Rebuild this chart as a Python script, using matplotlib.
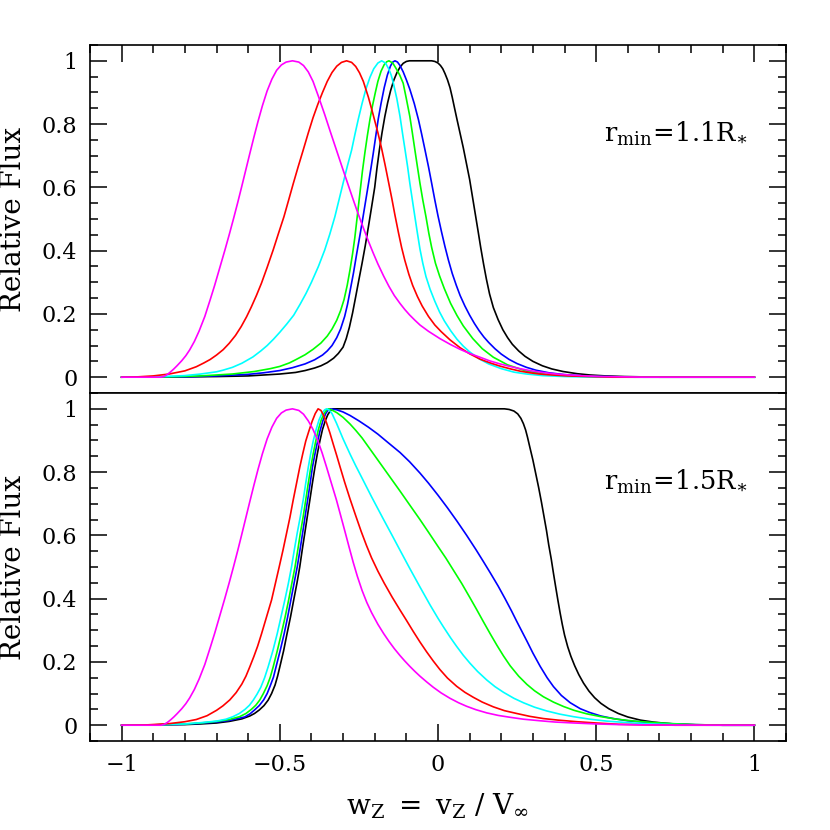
import matplotlib
matplotlib.use("Agg")
import matplotlib.pyplot as plt
from matplotlib.ticker import MultipleLocator, FuncFormatter

# ---------------- data: top panel (r_min = 1.1 R*) ----------------
top_magenta_x = [-1.0, -0.875, -0.865, -0.855, -0.845, -0.835, -0.825, -0.81, -0.797, -0.785, -0.77, -0.755,
                 -0.737, -0.72, -0.706, -0.69, -0.674, -0.66, -0.646, -0.633, -0.621, -0.608, -0.595, -0.582,
                 -0.569, -0.555, -0.54, -0.525, -0.51, -0.495, -0.48, -0.46, -0.44, -0.425, -0.41, -0.395,
                 -0.377, -0.358, -0.34, -0.321, -0.303, -0.285, -0.269, -0.253, -0.236, -0.22, -0.205, -0.19,
                 -0.172, -0.155, -0.138, -0.12, -0.105, -0.09, -0.073, -0.057, -0.03, 0.006, 0.04, 0.07, 0.1,
                 0.133, 0.165, 0.196, 0.228, 0.259, 0.29, 0.323, 0.355, 0.386, 0.43, 0.47, 0.52, 0.58, 0.65, 1.0]
top_magenta_y = [0.0, 0.0, 0.003, 0.009, 0.017, 0.026, 0.036, 0.052, 0.068, 0.086, 0.113, 0.146,
                 0.192, 0.245, 0.29, 0.345, 0.4, 0.45, 0.502, 0.552, 0.6, 0.653, 0.706, 0.758,
                 0.808, 0.858, 0.905, 0.942, 0.97, 0.987, 0.996, 1.0, 0.996, 0.985, 0.965, 0.935,
                 0.885, 0.83, 0.775, 0.718, 0.664, 0.611, 0.564, 0.518, 0.472, 0.43, 0.393, 0.358,
                 0.32, 0.287, 0.258, 0.233, 0.214, 0.197, 0.18, 0.165, 0.145, 0.122, 0.103, 0.088, 0.075,
                 0.063, 0.051, 0.042, 0.034, 0.027, 0.021, 0.016, 0.012, 0.009, 0.006, 0.004, 0.002, 0.001, 0.0, 0.0]

top_red_x = [-1.0, -0.95, -0.9, -0.85, -0.8, -0.764, -0.74, -0.72, -0.7, -0.679, -0.66, -0.64, -0.622, -0.605,
             -0.59, -0.574, -0.558, -0.54, -0.521, -0.504, -0.487, -0.472, -0.458, -0.442, -0.426, -0.41,
             -0.395, -0.38, -0.365, -0.35, -0.335, -0.32, -0.305, -0.289, -0.273, -0.26, -0.248, -0.236,
             -0.22, -0.205, -0.19, -0.178, -0.167, -0.157, -0.146, -0.136, -0.125, -0.115, -0.105, -0.092,
             -0.08, -0.065, -0.05, -0.03, -0.01, 0.01, 0.038, 0.07, 0.1, 0.133, 0.165, 0.196, 0.23, 0.26,
             0.29, 0.32, 0.36, 0.41, 0.48, 0.55, 1.0]
top_red_y = [0.0, 0.001, 0.004, 0.01, 0.02, 0.033, 0.045, 0.056, 0.07, 0.087, 0.107, 0.132, 0.16, 0.191,
             0.222, 0.258, 0.297, 0.347, 0.402, 0.455, 0.507, 0.56, 0.61, 0.665, 0.718, 0.772,
             0.82, 0.862, 0.9, 0.935, 0.963, 0.983, 0.995, 1.0, 0.995, 0.982, 0.962, 0.935,
             0.885, 0.83, 0.773, 0.722, 0.67, 0.62, 0.565, 0.512, 0.457, 0.41, 0.37, 0.325,
             0.29, 0.255, 0.225, 0.192, 0.165, 0.144, 0.118, 0.093, 0.074, 0.057, 0.045, 0.035, 0.026, 0.019,
             0.014, 0.01, 0.007, 0.004, 0.002, 0.0, 0.0]

top_cyan_x = [-1.0, -0.9, -0.8, -0.75, -0.7, -0.68, -0.65, -0.62, -0.585, -0.56, -0.54, -0.52, -0.5, -0.478,
              -0.456, -0.435, -0.417, -0.4, -0.378, -0.358, -0.342, -0.326, -0.313, -0.3, -0.287, -0.273,
              -0.262, -0.252, -0.24, -0.228, -0.215, -0.203, -0.19, -0.178, -0.166, -0.156, -0.148, -0.141,
              -0.13, -0.12, -0.112, -0.104, -0.096, -0.089, -0.081, -0.073, -0.065, -0.057, -0.048, -0.038,
              -0.025, -0.01, 0.005, 0.02, 0.04, 0.06, 0.08, 0.1, 0.13, 0.16, 0.2, 0.24, 0.28, 0.33, 0.4,
              0.5, 1.0]
top_cyan_y = [0.0, 0.001, 0.005, 0.01, 0.017, 0.022, 0.031, 0.044, 0.064, 0.083, 0.1, 0.12, 0.142, 0.168,
              0.196, 0.232, 0.265, 0.3, 0.35, 0.402, 0.452, 0.507, 0.56, 0.613, 0.665, 0.718,
              0.77, 0.815, 0.865, 0.91, 0.948, 0.975, 0.993, 1.0, 0.993, 0.975, 0.955, 0.929,
              0.88, 0.824, 0.77, 0.718, 0.665, 0.613, 0.56, 0.507, 0.455, 0.405, 0.36, 0.318,
              0.278, 0.24, 0.206, 0.178, 0.147, 0.12, 0.098, 0.08, 0.058, 0.042, 0.027, 0.016, 0.01, 0.005, 0.002,
              0.0, 0.0]

top_green_x = [-1.0, -0.85, -0.75, -0.65, -0.58, -0.53, -0.5, -0.47, -0.45, -0.42, -0.395, -0.37, -0.35,
               -0.335, -0.32, -0.308, -0.297, -0.287, -0.278, -0.27, -0.263, -0.255, -0.247, -0.239, -0.231,
               -0.223, -0.215, -0.207, -0.198, -0.19, -0.18, -0.17, -0.162, -0.155, -0.143, -0.132, -0.121,
               -0.11, -0.1, -0.089, -0.081, -0.073, -0.065, -0.057, -0.048, -0.038, -0.029, -0.02, -0.008,
               0.005, 0.02, 0.04, 0.06, 0.08, 0.11, 0.14, 0.175, 0.22, 0.28, 0.35, 0.45, 0.6, 1.0]
top_green_y = [0.0, 0.001, 0.004, 0.01, 0.018, 0.027, 0.034, 0.045, 0.055, 0.071, 0.088, 0.108, 0.13,
               0.152, 0.18, 0.21, 0.245, 0.29, 0.34, 0.39, 0.44, 0.51, 0.58, 0.65, 0.71,
               0.765, 0.815, 0.858, 0.9, 0.935, 0.967, 0.988, 0.997, 1.0, 0.993, 0.975, 0.955,
               0.929, 0.88, 0.824, 0.772, 0.718, 0.665, 0.613, 0.56, 0.507, 0.455, 0.41, 0.36,
               0.32, 0.28, 0.233, 0.195, 0.162, 0.122, 0.09, 0.063, 0.039, 0.019, 0.008, 0.003, 0.0, 0.0]

top_blue_x = [-1.0, -0.8, -0.7, -0.6, -0.55, -0.5, -0.46, -0.42, -0.39, -0.365, -0.35, -0.335, -0.32, -0.308,
              -0.295, -0.286, -0.278, -0.267, -0.257, -0.247, -0.238, -0.229, -0.22, -0.212, -0.205, -0.197,
              -0.189, -0.18, -0.17, -0.16, -0.15, -0.143, -0.136, -0.128, -0.12, -0.11, -0.1, -0.089,
              -0.075, -0.062, -0.052, -0.041, -0.03, -0.02, -0.01, 0.0, 0.011, 0.022, 0.033, 0.045, 0.058,
              0.07, 0.085, 0.1, 0.115, 0.13, 0.145, 0.16, 0.18, 0.2, 0.225, 0.25, 0.28, 0.31, 0.35, 0.4,
              0.46, 0.53, 0.62, 1.0]
top_blue_y = [0.0, 0.001, 0.004, 0.009, 0.014, 0.021, 0.03, 0.042, 0.055, 0.07, 0.083, 0.1, 0.125, 0.152,
              0.192, 0.23, 0.272, 0.33, 0.39, 0.447, 0.5, 0.555, 0.61, 0.66, 0.705, 0.76,
              0.815, 0.865, 0.915, 0.955, 0.984, 0.996, 1.0, 0.996, 0.985, 0.965, 0.94, 0.91,
              0.865, 0.815, 0.77, 0.718, 0.665, 0.613, 0.56, 0.51, 0.46, 0.413, 0.37, 0.328, 0.29,
              0.258, 0.225, 0.196, 0.17, 0.147, 0.127, 0.11, 0.09, 0.073, 0.056, 0.043, 0.031, 0.022, 0.014, 0.008,
              0.004, 0.002, 0.0, 0.0]

top_black_x = [-1.0, -0.8, -0.7, -0.6, -0.5, -0.45, -0.42, -0.39, -0.37, -0.35, -0.33, -0.315, -0.30, -0.29,
               -0.28, -0.27, -0.26, -0.25, -0.24, -0.23, -0.22, -0.21, -0.2, -0.193, -0.185, -0.177, -0.168,
               -0.159, -0.15, -0.14, -0.13, -0.12, -0.11, -0.1, -0.09, -0.02, -0.01, 0.0, 0.008, 0.015,
               0.022, 0.03, 0.038, 0.045, 0.052, 0.06, 0.07, 0.08, 0.09, 0.1, 0.109, 0.118, 0.127, 0.135,
               0.144, 0.153, 0.163, 0.175, 0.19, 0.205, 0.22, 0.235, 0.255, 0.275, 0.3, 0.33, 0.36, 0.395,
               0.44, 0.48, 0.53, 0.59, 0.7, 1.0]
top_black_y = [0.0, 0.001, 0.002, 0.004, 0.01, 0.015, 0.021, 0.029, 0.036, 0.046, 0.06, 0.075, 0.095, 0.122,
               0.158, 0.203, 0.255, 0.308, 0.36, 0.415, 0.475, 0.537, 0.6, 0.66, 0.72, 0.772, 0.824,
               0.868, 0.905, 0.938, 0.962, 0.98, 0.992, 0.998, 1.0, 1.0, 0.998, 0.993, 0.985, 0.975,
               0.96, 0.94, 0.915, 0.885, 0.852, 0.815, 0.77, 0.725, 0.675, 0.625, 0.57, 0.515, 0.46, 0.41,
               0.358, 0.31, 0.263, 0.22, 0.182, 0.15, 0.125, 0.104, 0.083, 0.066, 0.05, 0.036, 0.026, 0.018,
               0.011, 0.007, 0.004, 0.002, 0.0, 0.0]

# ---------------- data: bottom panel (r_min = 1.5 R*) ----------------
bot_magenta_x = [-1.0, -0.875, -0.865, -0.855, -0.845, -0.835, -0.825, -0.81, -0.797, -0.785, -0.77, -0.755,
                 -0.737, -0.72, -0.706, -0.69, -0.674, -0.66, -0.646, -0.633, -0.621, -0.608, -0.595, -0.582,
                 -0.569, -0.555, -0.54, -0.525, -0.51, -0.495, -0.48, -0.46, -0.44, -0.425, -0.41, -0.395,
                 -0.38, -0.366, -0.352, -0.337, -0.321, -0.308, -0.294, -0.281, -0.268, -0.255, -0.24, -0.225,
                 -0.21, -0.19, -0.172, -0.155, -0.138, -0.12, -0.105, -0.089, -0.073, -0.057, -0.036, -0.015,
                 0.01, 0.038, 0.065, 0.09, 0.12, 0.154, 0.19, 0.228, 0.27, 0.323, 0.37, 0.43, 0.5, 0.57,
                 0.65, 0.75, 1.0]
bot_magenta_y = [0.0, 0.0, 0.003, 0.009, 0.017, 0.026, 0.036, 0.052, 0.068, 0.086, 0.113, 0.146,
                 0.192, 0.245, 0.29, 0.345, 0.4, 0.45, 0.502, 0.552, 0.6, 0.653, 0.706, 0.758,
                 0.808, 0.858, 0.905, 0.942, 0.97, 0.987, 0.996, 1.0, 0.995, 0.983, 0.962, 0.935,
                 0.9, 0.86, 0.815, 0.765, 0.712, 0.664, 0.612, 0.563, 0.515, 0.471, 0.426, 0.388,
                 0.356, 0.319, 0.29, 0.265, 0.242, 0.22, 0.203, 0.186, 0.17, 0.155, 0.137, 0.12,
                 0.102, 0.085, 0.071, 0.06, 0.049, 0.039, 0.031, 0.025, 0.019, 0.014, 0.01, 0.007, 0.004, 0.002,
                 0.001, 0.0, 0.0]

bot_red_x = [-1.0, -0.92, -0.85, -0.8, -0.764, -0.73, -0.7, -0.68, -0.658, -0.638, -0.62, -0.607, -0.595,
             -0.582, -0.57, -0.558, -0.542, -0.526, -0.514, -0.502, -0.49, -0.479, -0.468, -0.458, -0.447,
             -0.437, -0.427, -0.418, -0.408, -0.398, -0.388, -0.379, -0.37, -0.362, -0.352, -0.342, -0.331,
             -0.32, -0.31, -0.295, -0.278, -0.26, -0.243, -0.226, -0.21, -0.19, -0.17, -0.145, -0.12, -0.1,
             -0.078, -0.057, -0.036, -0.015, 0.006, 0.03, 0.059, 0.085, 0.112, 0.14, 0.175, 0.21, 0.249,
             0.29, 0.333, 0.38, 0.44, 0.5, 0.57, 0.65, 0.75, 1.0]
bot_red_y = [0.0, 0.001, 0.005, 0.011, 0.018, 0.03, 0.047, 0.061, 0.08, 0.103, 0.13, 0.155, 0.184,
             0.217, 0.25, 0.288, 0.342, 0.396, 0.448, 0.5, 0.553, 0.605, 0.657, 0.71, 0.765,
             0.815, 0.86, 0.898, 0.93, 0.96, 0.985, 1.0, 0.995, 0.98, 0.955, 0.925, 0.888,
             0.852, 0.818, 0.768, 0.715, 0.662, 0.613, 0.568, 0.529, 0.487, 0.449, 0.405, 0.364, 0.332,
             0.296, 0.263, 0.232, 0.203, 0.176, 0.149, 0.123, 0.104, 0.088, 0.073, 0.058, 0.046, 0.037,
             0.028, 0.021, 0.016, 0.011, 0.007, 0.003, 0.001, 0.0, 0.0]

bot_cyan_x = [-1.0, -0.9, -0.8, -0.75, -0.7, -0.67, -0.648, -0.628, -0.61, -0.596, -0.584, -0.572, -0.56,
              -0.548, -0.537, -0.522, -0.508, -0.496, -0.484, -0.473, -0.463, -0.454, -0.445, -0.435, -0.426,
              -0.418, -0.41, -0.402, -0.394, -0.385, -0.376, -0.367, -0.358, -0.352, -0.344, -0.335, -0.321,
              -0.3, -0.278, -0.26, -0.24, -0.21, -0.173, -0.145, -0.12, -0.09, -0.057, -0.025, 0.0, 0.017,
              0.04, 0.059, 0.08, 0.101, 0.125, 0.154, 0.18, 0.207, 0.24, 0.27, 0.305, 0.344, 0.385, 0.428,
              0.48, 0.533, 0.6, 0.67, 0.75, 0.85, 1.0]
bot_cyan_y = [0.0, 0.001, 0.004, 0.008, 0.013, 0.019, 0.027, 0.037, 0.05, 0.063, 0.079, 0.098, 0.12,
              0.15, 0.184, 0.235, 0.29, 0.343, 0.396, 0.448, 0.5, 0.555, 0.607, 0.66, 0.712,
              0.765, 0.815, 0.86, 0.9, 0.935, 0.965, 0.985, 0.997, 1.0, 0.996, 0.985, 0.955,
              0.905, 0.857, 0.82, 0.781, 0.722, 0.652, 0.6, 0.553, 0.497, 0.437, 0.38, 0.338, 0.311,
              0.276, 0.249, 0.221, 0.196, 0.17, 0.143, 0.122, 0.104, 0.085, 0.071, 0.057, 0.045, 0.035, 0.027,
              0.019, 0.013, 0.008, 0.004, 0.002, 0.0, 0.0]

bot_green_x = [-1.0, -0.9, -0.8, -0.75, -0.7, -0.66, -0.627, -0.607, -0.59, -0.576, -0.563, -0.552, -0.54,
               -0.53, -0.521, -0.508, -0.495, -0.483, -0.472, -0.462, -0.452, -0.443, -0.435, -0.426, -0.418,
               -0.41, -0.402, -0.395, -0.387, -0.378, -0.369, -0.36, -0.352, -0.345, -0.335, -0.32, -0.3,
               -0.278, -0.26, -0.24, -0.22, -0.2, -0.18, -0.16, -0.14, -0.12, -0.09, -0.057, -0.03, 0.0,
               0.025, 0.05, 0.075, 0.101, 0.122, 0.143, 0.165, 0.186, 0.207, 0.228, 0.255, 0.281, 0.305,
               0.333, 0.365, 0.397, 0.43, 0.47, 0.515, 0.565, 0.62, 0.67, 0.74, 0.81, 0.9, 1.0]
bot_green_y = [0.0, 0.001, 0.004, 0.007, 0.012, 0.018, 0.027, 0.037, 0.05, 0.063, 0.08, 0.1, 0.125,
               0.152, 0.184, 0.235, 0.29, 0.343, 0.396, 0.448, 0.5, 0.555, 0.607, 0.66, 0.712,
               0.765, 0.815, 0.855, 0.895, 0.935, 0.965, 0.985, 0.997, 1.0, 0.996, 0.988, 0.973,
               0.952, 0.932, 0.908, 0.88, 0.852, 0.824, 0.796, 0.768, 0.74, 0.697, 0.65, 0.61, 0.565,
               0.528, 0.488, 0.448, 0.403, 0.366, 0.328, 0.289, 0.253, 0.219, 0.188, 0.155, 0.129, 0.109,
               0.09, 0.073, 0.059, 0.047, 0.036, 0.027, 0.019, 0.013, 0.009, 0.005, 0.002, 0.0, 0.0]

bot_blue_x = [-1.0, -0.9, -0.8, -0.75, -0.7, -0.66, -0.611, -0.594, -0.58, -0.565, -0.551, -0.54, -0.53,
              -0.52, -0.512, -0.499, -0.486, -0.475, -0.465, -0.455, -0.445, -0.436, -0.428, -0.42, -0.412,
              -0.404, -0.397, -0.389, -0.381, -0.373, -0.364, -0.355, -0.347, -0.34, -0.32, -0.3, -0.278,
              -0.25, -0.22, -0.19, -0.16, -0.12, -0.09, -0.057, -0.03, 0.0, 0.03, 0.06, 0.09, 0.12, 0.143,
              0.165, 0.19, 0.212, 0.232, 0.249, 0.265, 0.281, 0.3, 0.323, 0.345, 0.365, 0.39, 0.418, 0.45,
              0.48, 0.515, 0.554, 0.6, 0.66, 0.72, 0.8, 0.9, 1.0]
bot_blue_y = [0.0, 0.001, 0.003, 0.006, 0.01, 0.015, 0.026, 0.036, 0.048, 0.062, 0.08, 0.1, 0.125,
              0.152, 0.184, 0.235, 0.29, 0.343, 0.396, 0.448, 0.5, 0.555, 0.607, 0.66, 0.712,
              0.765, 0.815, 0.857, 0.895, 0.93, 0.962, 0.985, 0.997, 1.0, 0.997, 0.99, 0.979,
              0.962, 0.942, 0.92, 0.895, 0.862, 0.833, 0.797, 0.765, 0.727, 0.687, 0.645, 0.601, 0.555, 0.518,
              0.482, 0.44, 0.4, 0.362, 0.328, 0.297, 0.266, 0.228, 0.186, 0.15, 0.122, 0.094, 0.071, 0.052,
              0.04, 0.029, 0.021, 0.014, 0.009, 0.005, 0.002, 0.0, 0.0]

bot_black_x = [-1.0, -0.9, -0.8, -0.75, -0.7, -0.66, -0.62, -0.595, -0.58, -0.565, -0.55, -0.537, -0.526,
               -0.515, -0.507, -0.5, -0.488, -0.477, -0.466, -0.456, -0.446, -0.437, -0.429, -0.421, -0.413,
               -0.405, -0.397, -0.389, -0.381, -0.373, -0.365, -0.356, -0.348, -0.34, -0.332, 0.21, 0.225,
               0.24, 0.252, 0.262, 0.27, 0.277, 0.283, 0.29, 0.3, 0.309, 0.318, 0.327, 0.335, 0.343, 0.35,
               0.358, 0.365, 0.372, 0.379, 0.386, 0.393, 0.4, 0.41, 0.42, 0.432, 0.445, 0.46, 0.477, 0.495,
               0.515, 0.54, 0.57, 0.6, 0.64, 0.68, 0.72, 0.76, 0.82, 0.9, 1.0]
bot_black_y = [0.0, 0.001, 0.002, 0.004, 0.007, 0.012, 0.02, 0.029, 0.037, 0.048, 0.062, 0.079, 0.1,
               0.127, 0.155, 0.184, 0.235, 0.29, 0.343, 0.396, 0.448, 0.5, 0.555, 0.607, 0.66,
               0.712, 0.765, 0.815, 0.86, 0.9, 0.935, 0.963, 0.982, 0.994, 1.0, 1.0, 0.998,
               0.993, 0.984, 0.97, 0.953, 0.933, 0.91, 0.88, 0.838, 0.795, 0.752, 0.705, 0.66, 0.615, 0.57,
               0.525, 0.48, 0.437, 0.395, 0.355, 0.318, 0.285, 0.248, 0.218, 0.188, 0.16, 0.133, 0.108, 0.087,
               0.069, 0.052, 0.037, 0.026, 0.016, 0.01, 0.006, 0.003, 0.001, 0.0, 0.0]

colors = ["black", "#0000ff", "#00ff00", "#00ffff", "#ff0000", "#ff00ff"]
top_series = [(top_black_x, top_black_y), (top_blue_x, top_blue_y), (top_green_x, top_green_y),
              (top_cyan_x, top_cyan_y), (top_red_x, top_red_y), (top_magenta_x, top_magenta_y)]
bot_series = [(bot_black_x, bot_black_y), (bot_blue_x, bot_blue_y), (bot_green_x, bot_green_y),
              (bot_cyan_x, bot_cyan_y), (bot_red_x, bot_red_y), (bot_magenta_x, bot_magenta_y)]
panel_labels = [r"$\mathregular{r_{min}\!=\!1.1R_{\ast}}$", r"$\mathregular{r_{min}\!=\!1.5R_{\ast}}$"]
x_ticks = [-1, -0.5, 0, 0.5, 1]
y_ticks = [0, 0.2, 0.4, 0.6, 0.8, 1]

plt.rcParams["font.family"] = ["DejaVu Serif"]
plt.rcParams["mathtext.fontset"] = "dejavuserif"

fig = plt.figure(figsize=(8.3, 8.3), dpi=100)
ax_top = fig.add_axes([0.1084, 0.5265, 0.8386, 0.4193])
ax_bot = fig.add_axes([0.1084, 0.1072, 0.8386, 0.4193])

fmt = FuncFormatter(lambda v, p: ("%g" % v).replace("-", "\u2212"))

for ax, series, lab in [(ax_top, top_series, panel_labels[0]), (ax_bot, bot_series, panel_labels[1])]:
    for (xs, ys), c in zip(series, colors):
        ax.plot(xs, ys, color=c, lw=1.2)
    ax.set_xlim(-1.1, 1.1)
    ax.set_ylim(-0.05, 1.05)
    ax.set_xticks(x_ticks)
    ax.set_yticks(y_ticks)
    ax.xaxis.set_minor_locator(MultipleLocator(0.1))
    ax.yaxis.set_minor_locator(MultipleLocator(0.05))
    ax.xaxis.set_major_formatter(fmt)
    ax.yaxis.set_major_formatter(fmt)
    ax.tick_params(which="both", direction="in", left=True, right=True, width=1.1, labelsize=16, pad=9)
    ax.tick_params(which="major", length=12)
    ax.tick_params(which="minor", length=6)
    for s in ax.spines.values():
        s.set_linewidth(1.2)
    ax.set_ylabel("Relative Flux", fontsize=20)
    ax.yaxis.set_label_coords(-0.09, 0.5)
    ax.text(0.98, 0.744, lab, ha="right", va="baseline", fontsize=18.5)

ax_top.tick_params(which="both", top=True, bottom=False, labelbottom=False)
ax_bot.tick_params(which="both", top=False, bottom=True, labelbottom=True)
ax_bot.set_xlabel(r"$\mathregular{w_Z\ =\ v_Z\ /\ V_\infty}$", fontsize=20)
ax_bot.xaxis.set_label_coords(0.5, -0.145)

fig.savefig("out.png", dpi=100)
